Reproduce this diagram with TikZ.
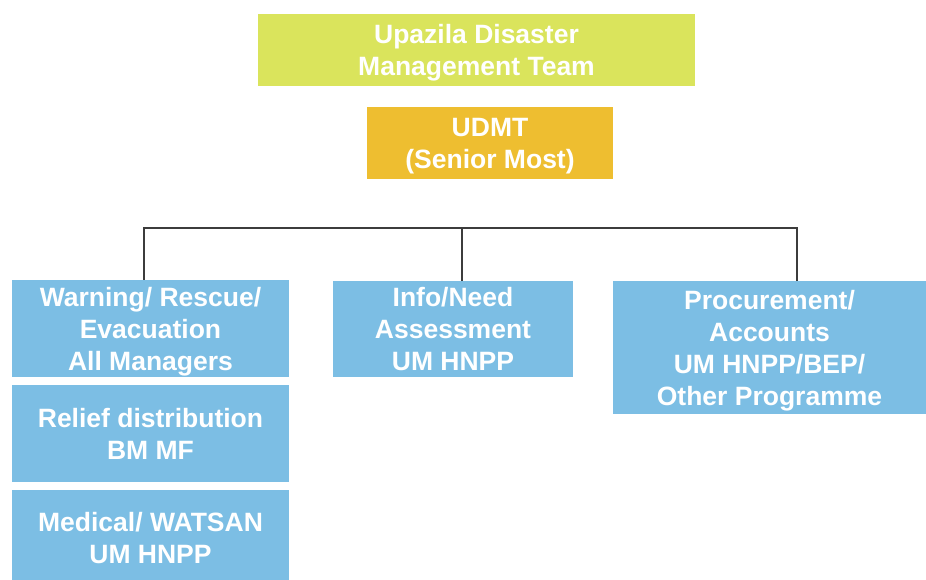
\documentclass[tikz,border=0pt]{standalone}
\usepackage{fontspec}
\setmainfont{Liberation Sans}
\usepackage{xcolor}
\usetikzlibrary{positioning,calc}
\definecolor{teamgreen}{RGB}{218,228,92}
\definecolor{headorange}{RGB}{238,190,48}
\definecolor{unitblue}{RGB}{124,190,228}
\definecolor{linegray}{RGB}{60,60,60}

\begin{document}
\begin{tikzpicture}[
					x=1pt, y=-1pt,
					ob/.style={
							rectangle,
							inner sep=0pt,
							text depth=0pt,
							text=white,
							font=\fontsize{26.5}{32}\selectfont\bfseries,
							align=center
						},
					unit/.style={
							ob,
							fill=unitblue
						},
					link/.style={
							draw=linegray,
							line width=2pt
						}
				]
				\useasboundingbox (0,0) rectangle (926,579);

				\node[ob, fill=teamgreen, minimum width=437pt, minimum height=72pt] (Team) at (476.5, 50) {
				Upazila Disaster\\
				Management Team
				};

				\node[ob, fill=headorange, minimum width=246pt, minimum height=72pt] (UDMT) at (490, 143) {
				UDMT\\
				(Senior Most)
				};

				\node[unit, minimum width=277pt, minimum height=97pt] (Warn) at (150.5, 328.5) {
					Warning/ Rescue/\\
					Evacuation\\
					All Managers
				};

				\node[unit, minimum width=277pt, minimum height=97pt] (Relief) at (150.5, 433.5) {
					Relief distribution\\
					BM MF
				};

				\node[unit, minimum width=277pt, minimum height=96pt] (Medical) at (150.5, 538) {
					Medical/ WATSAN\\
					UM HNPP
				};

				\node[unit, minimum width=240pt, minimum height=96pt] (Info) at (453, 329) {
					Info/Need\\
					Assessment\\
					UM HNPP
				};

				\node[unit, minimum width=313pt, minimum height=133pt] (Proc) at (769.5, 347.5) {
					Procurement/\\
					Accounts\\
					UM HNPP/BEP/\\
					Other Programme
				};

				\coordinate (BusL) at (144, 228);
				\coordinate (BusM) at (462, 228);
				\coordinate (BusR) at (797, 228);

				\draw[link] ($(UDMT.south)+(-5,0)$) -- ($(UDMT.south)+(-5,0)$ |- BusL);
				\draw[link] (Warn.north -| BusL) -- (BusL) -- (BusR) -- (Proc.north -| BusR);
				\draw[link] (BusM) -- (Info.north -| BusM);
		\end{tikzpicture}
\end{document}
